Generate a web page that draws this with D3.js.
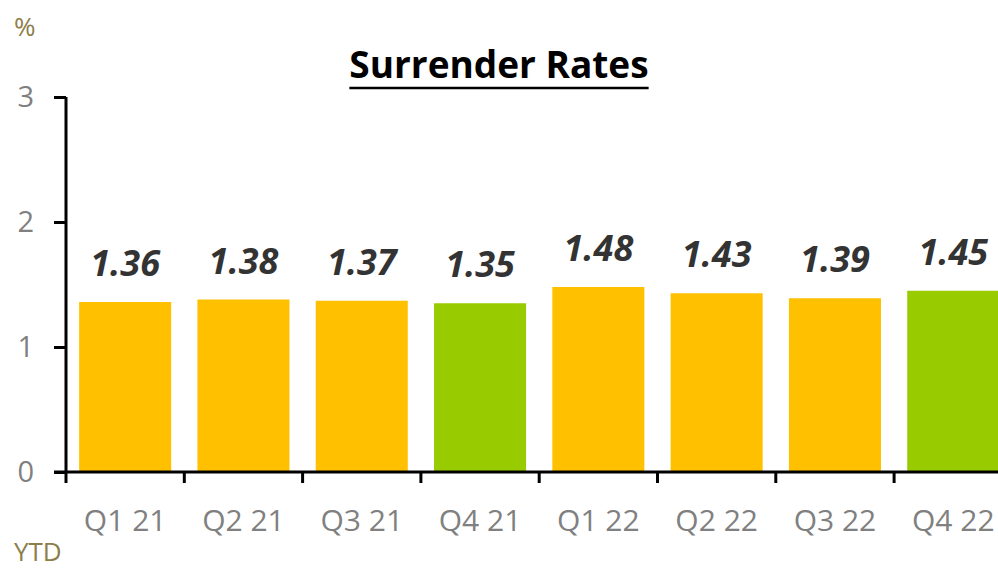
<!DOCTYPE html>
<html>
<head>
<meta charset="utf-8">
<script src="https://cdn.jsdelivr.net/npm/d3@7/dist/d3.min.js"></script>
<style>
  html, body { margin: 0; padding: 0; background: #fff; }
  svg { display: block; }
</style>
</head>
<body>
<script>
// Quarterly surrender rates (%), year-to-date
const categories = ["Q1 21", "Q2 21", "Q3 21", "Q4 21", "Q1 22", "Q2 22", "Q3 22", "Q4 22"];
const rates = [1.36, 1.38, 1.37, 1.35, 1.48, 1.43, 1.39, 1.45];
const yearEnd = [false, false, false, true, false, false, false, true];
const yTicks = [0, 1, 2, 3];

const W = 998, H = 570;
const plotLeft = 66, plotBottom = 472, plotTop = 97;
const band = 118.3;

const svg = d3.select("body").append("svg").attr("width", W).attr("height", H);

const x = d3.scaleBand().domain(categories)
  .range([plotLeft, plotLeft + band * categories.length])
  .paddingInner(0.222).paddingOuter(0.111);
const y = d3.scaleLinear().domain([0, 3]).range([plotBottom, plotTop]);

const font = "'Open Sans', Lato, sans-serif";

// Bars
svg.append("g").selectAll("rect").data(rates).join("rect")
  .attr("x", (d, i) => x(categories[i]))
  .attr("y", d => y(d))
  .attr("width", x.bandwidth())
  .attr("height", d => y(0) - y(d))
  .attr("fill", (d, i) => yearEnd[i] ? "#99CC00" : "#FFC000");

// Value labels
svg.append("g").selectAll("text").data(rates).join("text")
  .attr("x", (d, i) => x(categories[i]) + x.bandwidth() / 2)
  .attr("y", d => y(d) - 26)
  .attr("text-anchor", "middle")
  .attr("font-family", font)
  .attr("font-weight", "bold")
  .attr("font-style", "italic")
  .attr("font-size", 36)
  .attr("fill", "#333333")
  .text(d => d.toFixed(2));

// Y axis
const yAxis = svg.append("g").attr("transform", `translate(${plotLeft},0)`)
  .call(d3.axisLeft(y).tickValues(yTicks).tickSize(12).tickPadding(20).tickFormat(d3.format("d")));
yAxis.select(".domain").attr("stroke", "#000").attr("stroke-width", 3)
  .attr("d", `M0,${plotTop}V${plotBottom}`);
yAxis.selectAll(".tick line").attr("stroke", "#000").attr("stroke-width", 3);
yAxis.selectAll(".tick text")
  .attr("font-family", font).attr("font-size", 29).attr("fill", "#808080");

// X axis: ticks at band boundaries
const xAxisG = svg.append("g");
xAxisG.append("line")
  .attr("x1", plotLeft - 12).attr("x2", W)
  .attr("y1", plotBottom).attr("y2", plotBottom)
  .attr("stroke", "#000").attr("stroke-width", 3);
xAxisG.selectAll("line.tick").data(categories).join("line")
  .attr("class", "tick")
  .attr("x1", (d, i) => plotLeft + band * i).attr("x2", (d, i) => plotLeft + band * i)
  .attr("y1", plotBottom).attr("y2", plotBottom + 11)
  .attr("stroke", "#000").attr("stroke-width", 3);
xAxisG.selectAll("text").data(categories).join("text")
  .attr("x", d => x(d) + x.bandwidth() / 2)
  .attr("y", plotBottom + 59)
  .attr("text-anchor", "middle")
  .attr("font-family", font).attr("font-size", 30).attr("fill", "#808080")
  .text(d => d);

// Title with underline
const title = svg.append("text")
  .attr("x", 499).attr("y", 78)
  .attr("text-anchor", "middle")
  .attr("font-family", font).attr("font-weight", "bold").attr("font-size", 37)
  .attr("fill", "#000")
  .text("Surrender Rates");
const tb = title.node().getBBox();
svg.append("line")
  .attr("x1", tb.x).attr("x2", tb.x + tb.width)
  .attr("y1", 88).attr("y2", 88)
  .attr("stroke", "#000").attr("stroke-width", 2.5);

// Unit and period notes
svg.append("text").attr("x", 14).attr("y", 36)
  .attr("font-family", font).attr("font-size", 26).attr("fill", "#8C7E4A").text("%");
svg.append("text").attr("x", 14).attr("y", 561)
  .attr("font-family", font).attr("font-size", 26).attr("fill", "#8C7E4A").text("YTD");
</script>
</body>
</html>
